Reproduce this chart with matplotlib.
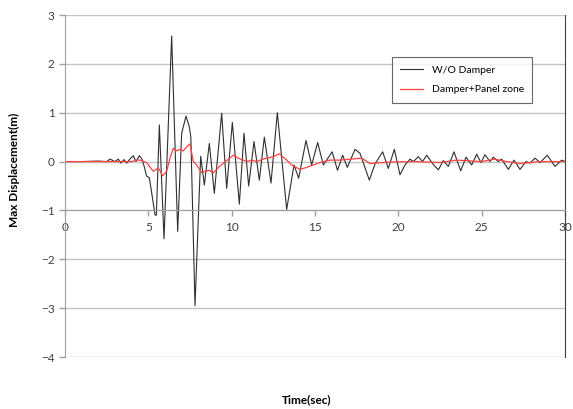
import numpy as np
import matplotlib.pyplot as plt

# Black series: W/O Damper (time [s], displacement [m])
t_wo = [0.0, 1.0, 2.0, 2.5, 2.7, 3.0, 3.2, 3.34, 3.54, 3.7, 3.94, 4.1, 4.26, 4.46,
        4.62, 4.75, 4.9, 5.06, 5.25, 5.4, 5.48, 5.66, 5.94, 6.4, 6.76, 7.0, 7.26,
        7.46, 7.55, 7.8, 8.14, 8.36, 8.66, 8.96, 9.4, 9.7, 10.04, 10.46, 10.74,
        11.02, 11.34, 11.66, 11.96, 12.36, 12.74, 13.3, 13.74, 14.02, 14.46, 14.8,
        15.16, 15.5, 16.03, 16.35, 16.66, 16.94, 17.4, 17.7, 18.26, 18.6, 19.06,
        19.4, 19.76, 20.1, 20.4, 20.7, 20.9, 21.2, 21.45, 21.7, 22.1, 22.4, 22.7,
        23.0, 23.34, 23.74, 24.06, 24.4, 24.7, 24.96, 25.2, 25.5, 25.7, 26.0, 26.2,
        26.6, 26.94, 27.3, 27.66, 27.9, 28.2, 28.5, 28.94, 29.4, 29.8, 30.0]
y_wo = [0.0, 0.0, 0.01, 0.0, 0.05, 0.0, 0.05, -0.03, 0.04, -0.03, 0.07, 0.12, 0.0, 0.12,
        0.05, -0.1, -0.3, -0.33, -0.75, -1.09, -1.1, 0.75, -1.58, 2.57, -1.43, 0.58, 0.93,
        0.71, 0.5, -2.95, 0.11, -0.48, 0.37, -0.65, 0.99, -0.55, 0.80, -0.87, 0.58,
        -0.5, 0.41, -0.38, 0.5, -0.44, 1.0, -0.98, -0.07, -0.34, 0.43, -0.07,
        0.39, -0.07, 0.2, -0.18, 0.13, -0.12, 0.25, 0.17, -0.38, -0.05, 0.2,
        -0.14, 0.25, -0.27, -0.07, 0.05, 0.0, 0.1, 0.0, 0.13, -0.06, -0.17, 0.02,
        -0.1, 0.2, -0.19, 0.09, -0.07, 0.15, -0.02, 0.14, 0.0, 0.09, 0.0, 0.05,
        -0.16, 0.03, -0.16, 0.0, -0.03, 0.07, -0.02, 0.13, -0.1, 0.03, 0.0]

# Red series: Damper+Panel zone
t_dp = [0.0, 4.0, 4.3, 4.5, 4.9, 5.3, 5.6, 5.86, 6.1, 6.3, 6.5, 6.7, 6.9, 7.1, 7.3,
        7.5, 7.7, 7.9, 8.2, 8.4, 8.66, 8.9, 9.3, 9.7, 10.1, 10.4, 10.9, 11.2, 11.5,
        11.8, 12.1, 12.5, 12.86, 13.3, 13.6, 14.1, 14.5, 15.3, 15.9, 16.5, 17.8,
        18.3, 19.5, 21.0, 22.5, 23.5, 25.0, 25.8, 26.5, 27.3, 28.5, 30.0]
y_dp = [0.0, 0.0, 0.03, 0.03, -0.02, -0.2, -0.13, -0.29, -0.2, 0.07, 0.27, 0.22, 0.25, 0.22, 0.3,
        0.36, 0.0, -0.07, -0.23, -0.2, -0.18, -0.23, -0.09, 0.02, 0.13, 0.07, 0.0, 0.03, 0.0,
        0.04, 0.07, 0.1, 0.16, 0.03, -0.07, -0.16, -0.12, -0.02, 0.03, 0.03, 0.07,
        -0.04, -0.01, 0.0, -0.02, 0.03, 0.0, 0.05, 0.0, -0.04, 0.0, 0.0]

x_ticks = [0, 5, 10, 15, 20, 25, 30]
y_ticks = [-4, -3, -2, -1, 0, 1, 2, 3]

plt.rcParams['font.family'] = ['Lato', 'DejaVu Sans']

fig = plt.figure(figsize=(5.73, 4.09), dpi=100)
ax = fig.add_axes([65/573, 1 - 357/409, 500/573, 342/409])

for yv in y_ticks:
    ax.axhline(yv, color='#c4c4c4', lw=1.0, zorder=0)

ax.plot(t_wo, y_wo, color='#303030', lw=0.8, label='W/O Damper')
ax.plot(t_dp, y_dp, color='#ff4040', lw=0.9, label='Damper+Panel zone')

ax.set_xlim(0, 30)
ax.set_ylim(-4, 3)
ax.set_xticks(x_ticks)
ax.set_yticks(y_ticks)

# horizontal axis crosses at -1 like the original
ax.spines['bottom'].set_position(('data', -1))
ax.spines['bottom'].set_color('#a0a0a0')
ax.spines['left'].set_color('#a0a0a0')
ax.spines['top'].set_visible(False)
ax.spines['right'].set_color('#404040')
ax.tick_params(axis='both', colors='#a0a0a0', labelcolor='#404040',
               labelsize=8.5, length=4, width=1)
ax.tick_params(axis='x', pad=4)

ax.set_ylabel('Max Displacement(m)', fontsize=8.5, fontweight='bold')
ax.yaxis.set_label_coords(-0.09, 0.547)
fig.text(307/573, 1 - 400/409, 'Time(sec)', ha='center', va='center',
         fontsize=8.5, fontweight='bold')

leg = ax.legend(loc='upper left', bbox_to_anchor=(0.654, 0.877), fontsize=7.5,
                frameon=True, fancybox=False, handlelength=2.2, borderpad=0.8,
                labelspacing=1.0, borderaxespad=0)
leg.get_frame().set_edgecolor('#404040')
leg.get_frame().set_linewidth(0.8)

fig.savefig('out.png', dpi=100)
